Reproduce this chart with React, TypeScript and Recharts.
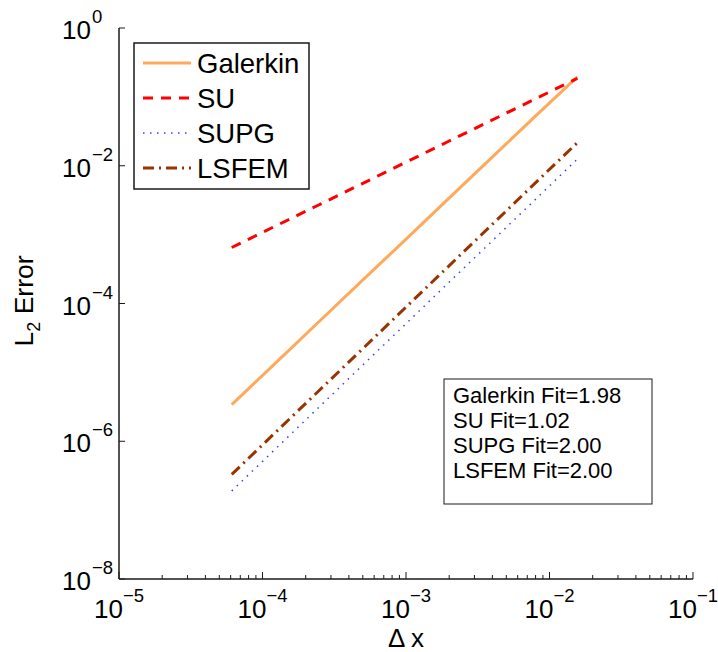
import React from "react";
import { LineChart, Line, XAxis, YAxis } from "recharts";

// mesh spacing (1/16384 ... 1/64)
const dxValues = [
  6.1035e-5, 1.2207e-4, 2.4414e-4, 4.8828e-4, 9.7656e-4, 1.9531e-3, 3.9063e-3,
  7.8125e-3, 1.5625e-2,
];
const galerkinErr = [
  3.4e-6, 1.34e-5, 5.3e-5, 2.09e-4, 8.2e-4, 3.25e-3, 1.28e-2, 5.05e-2, 0.195,
];
const suErr = [
  6.5e-4, 1.32e-3, 2.67e-3, 5.42e-3, 1.1e-2, 2.23e-2, 4.52e-2, 9.17e-2, 0.186,
];
const supgErr = [
  1.9e-7, 7.6e-7, 3.04e-6, 1.22e-5, 4.86e-5, 1.95e-4, 7.78e-4, 3.11e-3, 1.25e-2,
];
const lsfemErr = [
  3.3e-7, 1.32e-6, 5.28e-6, 2.11e-5, 8.45e-5, 3.38e-4, 1.35e-3, 5.41e-3, 2.16e-2,
];
const fitLabels = [
  "Galerkin Fit=1.98",
  "SU Fit=1.02",
  "SUPG Fit=2.00",
  "LSFEM Fit=2.00",
];
const xMajorExps = [-5, -4, -3, -2, -1];
const yMajorExps = [0, -2, -4, -6, -8];

const FONT = "'Liberation Sans', Arial, Helvetica, sans-serif";
const INK = "#1a1a1a";

const series = [
  { key: "galerkin", name: "Galerkin", color: "#ffa95c", width: 3, dash: undefined },
  { key: "su", name: "SU", color: "#ff0000", width: 3, dash: "10 8" },
  { key: "supg", name: "SUPG", color: "#3a3aff", width: 1.5, dash: "1.5 5.5" },
  { key: "lsfem", name: "LSFEM", color: "#993300", width: 3, dash: "11 5 2 5" },
];

const data = dxValues.map((dx, i) => ({
  dx,
  galerkin: galerkinErr[i],
  su: suErr[i],
  supg: supgErr[i],
  lsfem: lsfemErr[i],
}));

// decade ticks with minor ticks 2..9 on the x axis
const xTicks: number[] = [];
xMajorExps.forEach((e, i) => {
  const base = Math.pow(10, e);
  xTicks.push(base);
  if (i < xMajorExps.length - 1) {
    for (let m = 2; m < 10; m++) xTicks.push(m * base);
  }
});
const yTicks = yMajorExps.map((e) => Math.pow(10, e));

const isDecade = (v: number) =>
  Math.abs(Math.log10(v) - Math.round(Math.log10(v))) < 1e-9;
const expOf = (v: number) => Math.round(Math.log10(v));
const supText = (e: number) => (e < 0 ? "\u2212" + Math.abs(e) : String(e));

const BottomTick = (props: any) => {
  const { x, y, payload } = props;
  const major = isDecade(payload.value);
  const e = expOf(payload.value);
  return (
    <g>
      <line x1={x} x2={x} y1={y} y2={y - (major ? 7 : 4)} stroke={INK} strokeWidth={1} />
      {major && (
        <g fontFamily={FONT} fill="#000">
          <text x={x + 4} y={y + 39} fontSize={26} textAnchor="end">
            10
          </text>
          <text x={x + 4} y={y + 23} fontSize={18.5} textAnchor="start">
            {supText(e)}
          </text>
        </g>
      )}
    </g>
  );
};

const TopTick = (props: any) => {
  const { x, y, payload } = props;
  const major = isDecade(payload.value);
  return <line x1={x} x2={x} y1={y} y2={y + (major ? 7 : 4)} stroke={INK} strokeWidth={1} />;
};

const LeftTick = (props: any) => {
  const { x, y, payload } = props;
  const e = expOf(payload.value);
  return (
    <g>
      <line x1={x} x2={x + 6} y1={y} y2={y} stroke={INK} strokeWidth={1} />
      <g fontFamily={FONT} fill="#000">
        <text x={x - 28} y={y + 11} fontSize={26} textAnchor="end">
          10
        </text>
        <text x={x - 27} y={y - 5} fontSize={18.5} textAnchor="start">
          {supText(e)}
        </text>
      </g>
    </g>
  );
};

const RightTick = (props: any) => {
  const { x, y } = props;
  return <line x1={x} x2={x - 6} y1={y} y2={y} stroke={INK} strokeWidth={1} />;
};

const XTitle = () => (
  <text x={406} y={647} fontFamily={FONT} fontSize={26} textAnchor="middle" fill="#000">
    {"\u0394 x"}
  </text>
);

const YTitle = () => (
  <text
    transform="translate(33,301) rotate(-90)"
    fontFamily={FONT}
    fontSize={26.5}
    textAnchor="middle"
    fill="#000"
  >
    L
    <tspan fontSize={18} dy={7}>
      2
    </tspan>
    <tspan dy={-7}> Error</tspan>
  </text>
);

const LegendBox = () => (
  <svg
    width={180}
    height={150}
    style={{ position: "absolute", left: 133, top: 42 }}
  >
    <rect x={1} y={1} width={175} height={146} fill="#fff" stroke={INK} strokeWidth={1.5} />
    {series.map((s, i) => {
      const cy = 21 + i * 35;
      return (
        <g key={s.key}>
          <line
            x1={10}
            x2={58}
            y1={cy}
            y2={cy}
            stroke={s.color}
            strokeWidth={s.width}
            strokeDasharray={s.dash}
          />
          <text x={64} y={cy + 9.5} fontFamily={FONT} fontSize={27.5} fill="#000">
            {s.name}
          </text>
        </g>
      );
    })}
  </svg>
);

const FitBox = () => (
  <svg width={212} height={130} style={{ position: "absolute", left: 443, top: 378 }}>
    <rect x={1} y={1} width={208} height={125} fill="#fff" stroke={INK} strokeWidth={1} />
    {fitLabels.map((t, i) => (
      <text key={t} x={10} y={25 + i * 25} fontFamily={FONT} fontSize={22} fill="#000">
        {t}
      </text>
    ))}
  </svg>
);

export default function App() {
  return (
    <div
      style={{
        position: "absolute",
        left: 0,
        top: 0,
        width: 718,
        height: 652,
        background: "#fff",
      }}
    >
      <LineChart
        width={718}
        height={652}
        data={data}
        margin={{ top: 28, right: 25, bottom: 0, left: 0 }}
      >
        <XAxis
          xAxisId="bottom"
          dataKey="dx"
          type="number"
          scale="log"
          domain={[1e-5, 1e-1]}
          allowDataOverflow
          ticks={xTicks}
          interval={0}
          orientation="bottom"
          height={73}
          tickSize={0}
          tickMargin={0}
          tick={<BottomTick />}
          axisLine={{ stroke: INK, strokeWidth: 1.5 }}
          label={<XTitle />}
        />
        <XAxis
          xAxisId="top"
          dataKey="dx"
          type="number"
          scale="log"
          domain={[1e-5, 1e-1]}
          allowDataOverflow
          ticks={xTicks}
          interval={0}
          orientation="top"
          height={0}
          tickSize={0}
          tickMargin={0}
          tick={<TopTick />}
          axisLine={{ stroke: INK, strokeWidth: 1.5 }}
        />
        <YAxis
          yAxisId="left"
          type="number"
          scale="log"
          domain={[1e-8, 1]}
          allowDataOverflow
          ticks={yTicks}
          interval={0}
          orientation="left"
          width={119}
          tickSize={0}
          tickMargin={0}
          tick={<LeftTick />}
          axisLine={{ stroke: INK, strokeWidth: 1.5 }}
          label={<YTitle />}
        />
        <YAxis
          yAxisId="right"
          type="number"
          scale="log"
          domain={[1e-8, 1]}
          allowDataOverflow
          ticks={yTicks}
          interval={0}
          orientation="right"
          width={0}
          tickSize={0}
          tickMargin={0}
          tick={<RightTick />}
          axisLine={{ stroke: INK, strokeWidth: 1.5 }}
        />
        {series.map((s) => (
          <Line
            key={s.key}
            xAxisId="bottom"
            yAxisId="left"
            dataKey={s.key}
            name={s.name}
            type="linear"
            stroke={s.color}
            strokeWidth={s.width}
            strokeDasharray={s.dash}
            dot={false}
            activeDot={false}
            isAnimationActive={false}
          />
        ))}
      </LineChart>
      <LegendBox />
      <FitBox />
    </div>
  );
}
